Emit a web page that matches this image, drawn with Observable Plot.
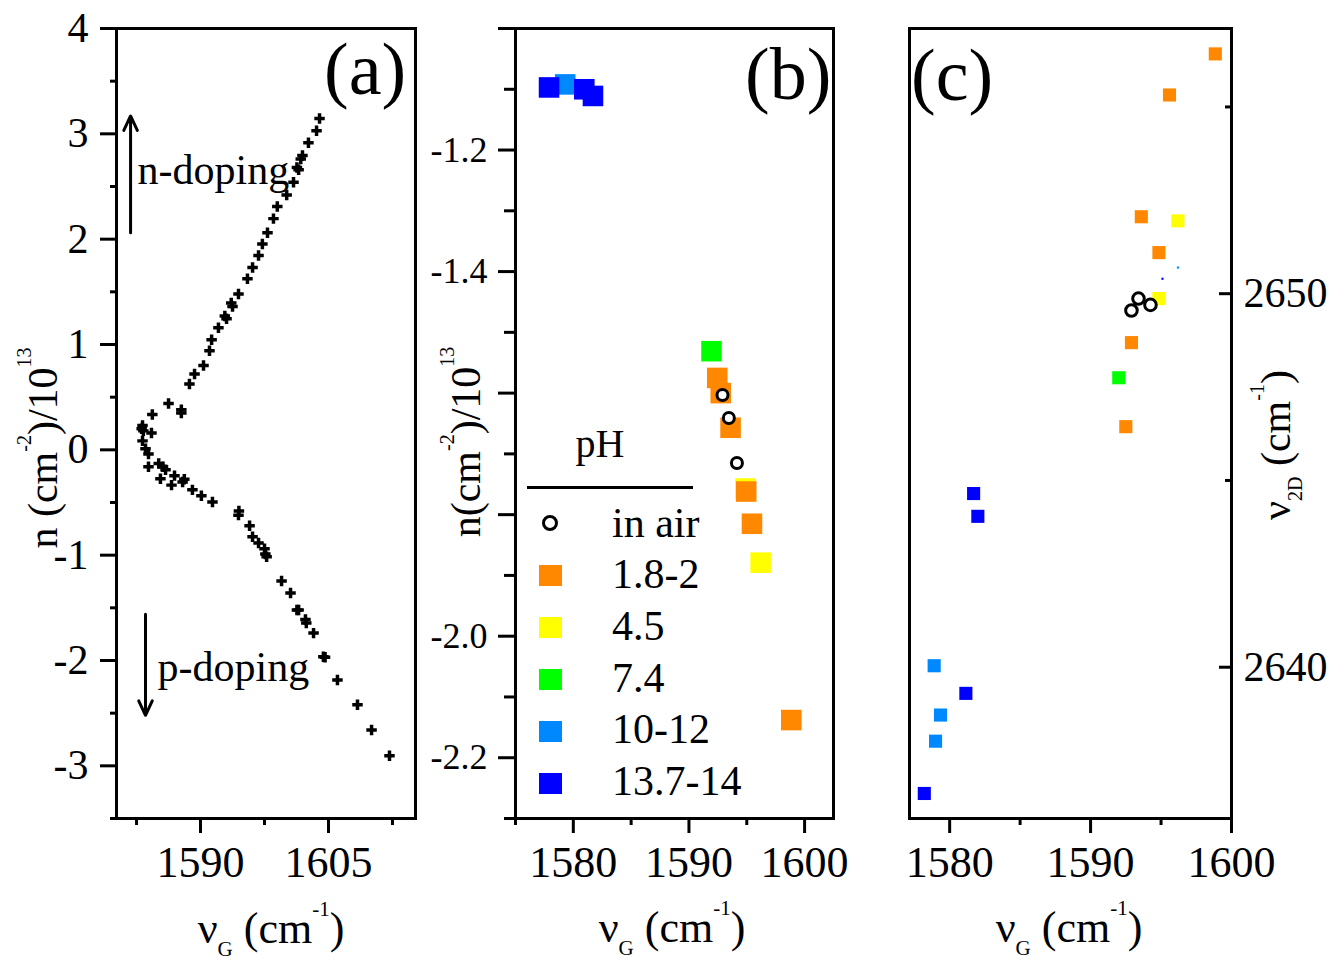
<!DOCTYPE html>
<html><head><meta charset="utf-8">
<script src="https://cdn.jsdelivr.net/npm/d3@7"></script>
<script src="https://cdn.jsdelivr.net/npm/@observablehq/plot@0.6"></script>
<style>
html,body{margin:0;padding:0;background:#fff;}
#fig{position:relative;width:1332px;height:964px;overflow:hidden;font-family:"Liberation Serif","Times New Roman",Times,serif;color:#000;background:#fff;}
.panel{position:absolute;top:0;}
.lbl{position:absolute;white-space:nowrap;font-size:44px;line-height:44px;}
.lbl sub{font-size:21px;line-height:0;vertical-align:-13px;}
.lbl sup{font-size:21px;line-height:0;vertical-align:27px;}
.lbl.y{font-size:42px;line-height:42px;}
.lbl.y sup{font-size:20px;vertical-align:26px;}
.lbl.y sub{font-size:20px;vertical-align:-12px;}
.tag{position:absolute;white-space:nowrap;font-size:74px;line-height:74px;}
.leg{position:absolute;white-space:nowrap;font-size:42px;line-height:42px;}
</style></head><body><div id="fig"></div>
<script>
// ---------- Panel (a): n vs nu_G ----------
const aX = [1603.95,1603.6,1602.65,1601.95,1601.75,1601.5,1601.3,1600.9,1600.1,1599.0,1598.55,1597.85,1597.25,1596.8,1596.1,1595.5,1594.45,1593.75,1593.6,1593.05,1592.85,1592.1,1591.3,1591.05,1590.35,1589.3,1588.7,1586.25,1587.75,1587.75,1584.35,1583.2,1583.3,1583.1,1584.25,1583.2,1583.55,1583.9,1583.9,1585.1,1585.9,1585.6,1585.3,1586.95,1586.6,1587.9,1588.1,1589.05,1590.1,1591.4,1594.45,1594.5,1595.75,1596.1,1596.8,1597.5,1597.75,1597.6,1599.5,1600.55,1601.5,1601.3,1602.4,1602.3,1603.25,1604.4,1604.6,1606.05,1608.4,1610.05,1612.15];
const aY = [3.145,3.03,2.915,2.795,2.76,2.66,2.68,2.54,2.42,2.31,2.195,2.06,1.955,1.845,1.73,1.625,1.48,1.36,1.395,1.245,1.27,1.16,1.045,0.94,0.80,0.72,0.625,0.44,0.35,0.38,0.335,0.23,0.18,0.20,0.16,0.085,0.01,-0.04,-0.16,-0.13,-0.19,-0.16,-0.275,-0.245,-0.335,-0.305,-0.28,-0.38,-0.435,-0.495,-0.62,-0.58,-0.72,-0.825,-0.885,-0.94,-1.015,-0.99,-1.245,-1.36,-1.52,-1.52,-1.645,-1.61,-1.74,-1.965,-1.97,-2.185,-2.42,-2.66,-2.905];
const aXDomain = [1580.15, 1615.2];
const aYDomain = [-3.5, 4];
const aXMajor = [1590, 1605];
const aXMinor = [1582.5, 1597.5, 1612.5];
const aYMajor = [-3, -2, -1, 0, 1, 2, 3, 4];
const aYMinor = [-3.5, -2.5, -1.5, -0.5, 0.5, 1.5, 2.5, 3.5];
const arrowX = [1581.8, 1583.55];
const arrowFrom = [2.06, -1.56];
const arrowTo = [3.17, -2.52];
const annText = ["n-doping", "p-doping"];
const annX = [1582.62, 1584.96];
const annY = [2.655, -2.067];

// ---------- Panel (b): n vs nu_G by pH ----------
const phGroups = ["in air", "1.8-2", "4.5", "7.4", "10-12", "13.7-14"];
const phColors = ["#000000", "#FF8800", "#FFFF00", "#00FF00", "#0088FF", "#0000FF"];
const bX = [1594.9, 1596.2, 1592.45, 1592.75, 1593.6, 1594.95, 1595.45, 1598.85, 1591.95, 1579.3, 1577.9, 1580.95, 1581.7];
const bY = [-1.757, -1.879, -1.575, -1.60, -1.657, -1.762, -1.815, -2.138, -1.531, -1.092, -1.097, -1.100, -1.111];
const bGroup = ["4.5", "4.5", "1.8-2", "1.8-2", "1.8-2", "1.8-2", "1.8-2", "1.8-2", "7.4", "10-12", "13.7-14", "13.7-14", "13.7-14"];
const bAirX = [1592.9, 1593.45, 1594.15];
const bAirY = [-1.603, -1.641, -1.715];
const bXDomain = [1575, 1602.5];
const bYDomain = [-2.3, -1.0];
const bXMajor = [1580, 1590, 1600];
const bXMinor = [1575, 1585, 1595];
const bYMajor = [-1.0, -1.2, -1.4, -1.6, -1.8, -2.0, -2.2];
const bYLabeled = [-1.2, -1.4, -2.0, -2.2];
const bYMinor = [-1.1, -1.3, -1.5, -1.7, -1.9, -2.1, -2.3];

// ---------- Panel (c): nu_2D vs nu_G by pH ----------
const cX = [1596.2, 1594.85, 1598.85, 1595.6, 1593.6, 1594.85, 1592.9, 1592.5, 1592.0, 1578.9, 1579.35, 1579.0, 1581.7, 1582.0, 1581.15, 1578.2];
const cY = [2651.95, 2649.87, 2656.42, 2655.32, 2652.06, 2651.1, 2648.69, 2646.44, 2647.75, 2640.04, 2638.72, 2638.02, 2644.65, 2644.04, 2639.3, 2636.62];
const cGroup = ["4.5", "4.5", "1.8-2", "1.8-2", "1.8-2", "1.8-2", "1.8-2", "1.8-2", "7.4", "10-12", "10-12", "10-12", "13.7-14", "13.7-14", "13.7-14", "13.7-14"];
const cAirX = [1593.4, 1594.25, 1592.9];
const cAirY = [2649.87, 2649.7, 2649.55];
const cTinyX = [1596.2, 1595.1];
const cTinyY = [2650.7, 2650.4];
const cTinyGroup = ["10-12", "13.7-14"];
const cXDomain = [1577.15, 1600];
const cYDomain = [2635.95, 2657.1];
const cXMajor = [1580, 1590, 1600];
const cXMinor = [1585, 1595];
const cYMajor = [2640, 2650];
const cYMinor = [2645, 2655];

// ---------- drawing ----------
const FONT = "'Liberation Serif','Times New Roman',Times,serif";
const fig = document.getElementById("fig");
const colorScale = {domain: phGroups.slice(1), range: phColors.slice(1)};
const baseStyle = {background: "transparent", fontFamily: FONT, overflow: "visible", color: "black"};

function place(svg, left) {
  const d = document.createElement("div");
  d.className = "panel";
  d.style.left = left + "px";
  d.appendChild(svg);
  fig.appendChild(d);
}

const A = Plot.plot({
  width: 420, height: 964,
  marginTop: 28, marginBottom: 146, marginLeft: 116, marginRight: 5,
  style: baseStyle,
  x: {domain: aXDomain, label: null},
  y: {domain: aYDomain, label: null},
  marks: [
    Plot.axisY({ticks: aYMajor, tickSize: 16, tickPadding: 12, strokeWidth: 3, fontSize: 42, label: null, tickFormat: d => String(d)}),
    Plot.axisY({ticks: aYMinor, tickSize: 6, strokeWidth: 3, fill: "none", label: null}),
    Plot.axisX({ticks: aXMajor, tickSize: 15, tickPadding: 12, strokeWidth: 3, fontSize: 44, label: null, tickFormat: d => String(d)}),
    Plot.axisX({ticks: aXMinor, tickSize: 7, strokeWidth: 3, fill: "none", label: null}),
    Plot.frame({strokeWidth: 3}),
    Plot.dot(aX, {x: aX, y: aY, symbol: "cross", r: 4.4, fill: "black"}),
    Plot.arrow(arrowX, {x1: arrowX, x2: arrowX, y1: arrowFrom, y2: arrowTo, strokeWidth: 3, headLength: 8, headAngle: 50, stroke: "black"}),
    Plot.text(annText, {x: annX, y: annY, text: annText, textAnchor: "start", fontSize: 42, fill: "black"})
  ]
});
place(A, 0);

const B = Plot.plot({
  width: 460, height: 964,
  marginTop: 28, marginBottom: 146, marginLeft: 95, marginRight: 47,
  style: baseStyle,
  x: {domain: bXDomain, label: null},
  y: {domain: bYDomain, label: null},
  color: colorScale,
  marks: [
    Plot.axisY({ticks: bYMajor, tickSize: 17, tickPadding: 11, strokeWidth: 3, fontSize: 36, label: null,
      tickFormat: d => bYLabeled.includes(d) ? d.toFixed(1) : ""}),
    Plot.axisY({ticks: bYMinor, tickSize: 11, strokeWidth: 3, fill: "none", label: null}),
    Plot.axisX({ticks: bXMajor, tickSize: 15, tickPadding: 12, strokeWidth: 3, fontSize: 44, label: null, tickFormat: d => String(d)}),
    Plot.axisX({ticks: bXMinor, tickSize: 7, strokeWidth: 3, fill: "none", label: null}),
    Plot.frame({strokeWidth: 3}),
    Plot.dot(bX, {x: bX, y: bY, fill: bGroup, symbol: "square", r: 11.6}),
    Plot.dot(bAirX, {x: bAirX, y: bAirY, r: 5.5, stroke: "black", strokeWidth: 3, fill: "white"})
  ]
});
place(B, 420);

const C = Plot.plot({
  width: 452, height: 964,
  marginTop: 28, marginBottom: 146, marginLeft: 29, marginRight: 101,
  style: baseStyle,
  x: {domain: cXDomain, label: null},
  y: {domain: cYDomain, label: null},
  color: colorScale,
  marks: [
    Plot.axisY({anchor: "right", ticks: cYMajor, tickSize: 13, dx: -13, tickPadding: 12, strokeWidth: 3, fontSize: 42, label: null, tickFormat: d => String(d)}),
    Plot.axisY({anchor: "right", ticks: cYMinor, tickSize: 7, dx: -7, strokeWidth: 3, fill: "none", label: null}),
    Plot.axisX({ticks: cXMajor, tickSize: 15, tickPadding: 12, strokeWidth: 3, fontSize: 44, label: null, tickFormat: d => String(d)}),
    Plot.axisX({ticks: cXMinor, tickSize: 7, strokeWidth: 3, fill: "none", label: null}),
    Plot.frame({strokeWidth: 3}),
    Plot.dot(cX, {x: cX, y: cY, fill: cGroup, symbol: "square", r: 7.4}),
    Plot.dot(cTinyX, {x: cTinyX, y: cTinyY, fill: cTinyGroup, symbol: "square", r: 1.2}),
    Plot.dot(cAirX, {x: cAirX, y: cAirY, r: 5.8, stroke: "black", strokeWidth: 3, fill: "white"})
  ]
});
place(C, 880);

// ---------- text: axis titles, panel tags, legend ----------
function label(html, cx, cy, rotate) {
  const d = document.createElement("div");
  d.className = rotate ? "lbl y" : "lbl";
  d.innerHTML = html;
  d.style.left = cx + "px";
  d.style.top = cy + "px";
  d.style.transform = "translate(-50%,-50%)" + (rotate ? " rotate(-90deg)" : "");
  fig.appendChild(d);
}
const xTitle = "ν<sub>G</sub> (cm<sup>-1</sup>)";
label(xTitle, 271, 929, false);
label(xTitle, 672, 928, false);
label(xTitle, 1069, 928, false);
label("n (cm<sup>-2</sup>)/10<sup>13</sup>", 43, 448, true);
label("n(cm<sup>-2</sup>)/10<sup>13</sup>", 466, 442, true);
label("ν<sub>2D</sub> (cm<sup>-1</sup>)", 1276, 445, true);

function tag(text, left, top) {
  const d = document.createElement("div");
  d.className = "tag";
  d.textContent = text;
  d.style.left = left + "px";
  d.style.top = top + "px";
  fig.appendChild(d);
}
tag("(a)", 324, 32);
tag("(b)", 745, 37);
tag("(c)", 911, 38);

// legend of panel (b)
const ph = document.createElement("div");
ph.className = "leg";
ph.style.fontSize = "40px"; ph.style.lineHeight = "40px";
ph.textContent = "pH";
ph.style.left = "600px"; ph.style.top = "424px";
ph.style.transform = "translateX(-50%)";
fig.appendChild(ph);
const rule = document.createElement("div");
rule.style.cssText = "position:absolute;left:527px;top:485.5px;width:166px;height:3px;background:#000;";
fig.appendChild(rule);
phGroups.forEach((g, i) => {
  const mc = 523 + 52 * i;
  const m = document.createElement("div");
  if (i === 0) {
    m.style.cssText = `position:absolute;left:${550 - 8}px;top:${mc - 8}px;width:10px;height:10px;border:3px solid #000;border-radius:50%;background:#fff;`;
  } else {
    m.style.cssText = `position:absolute;left:${550 - 11.5}px;top:${mc - 10.5}px;width:23px;height:21px;background:${phColors[i]};`;
  }
  fig.appendChild(m);
  const t = document.createElement("div");
  t.className = "leg";
  t.textContent = g;
  t.style.left = "612px";
  t.style.top = (537 + 51.6 * i - 35.2) + "px";
  fig.appendChild(t);
});
</script></body></html>
